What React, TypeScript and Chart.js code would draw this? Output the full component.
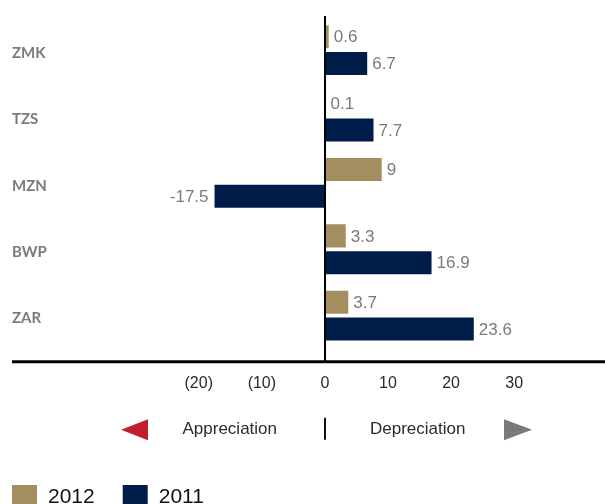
import React, { useEffect, useRef } from 'react';
import { Chart, registerables } from 'chart.js';

Chart.register(...registerables);

const categories = ['ZMK', 'TZS', 'MZN', 'BWP', 'ZAR'];
const values2012 = [0.6, 0.1, 9, 3.3, 3.7];
const values2011 = [6.7, 7.7, -17.5, 16.9, 23.6];
const seriesLabels = ['2012', '2011'];
const seriesColors = ['#a48e60', '#001c49'];
const tickValues = [-20, -10, 0, 10, 20, 30];
const directionLabels = ['Appreciation', 'Depreciation'];

const fmtTick = (v: number) => (v < 0 ? `(${-v})` : `${v}`);

const overlayPlugin = {
  id: 'overlay',
  afterDatasetsDraw(chart: any) {
    const { ctx, chartArea } = chart;
    const xs = chart.scales.x;
    const zeroX = Math.round(xs.getPixelForValue(0));
    const axisY = chartArea.bottom + 13;
    ctx.save();
    // zero line
    ctx.strokeStyle = '#000';
    ctx.lineWidth = 2;
    ctx.beginPath();
    ctx.moveTo(zeroX, chartArea.top - 1);
    ctx.lineTo(zeroX, axisY);
    ctx.stroke();
    // bottom axis line
    ctx.lineWidth = 3;
    ctx.beginPath();
    ctx.moveTo(12, axisY);
    ctx.lineTo(chart.width, axisY);
    ctx.stroke();

    // value labels
    ctx.font = '17px "Liberation Sans", Arial, sans-serif';
    ctx.fillStyle = '#7a7a7c';
    ctx.textBaseline = 'middle';
    chart.data.datasets.forEach((ds: any, di: number) => {
      const meta = chart.getDatasetMeta(di);
      meta.data.forEach((el: any, i: number) => {
        const v = ds.data[i];
        if (v >= 0) {
          ctx.textAlign = 'left';
          ctx.fillText(String(v), el.x + 5, el.y + 1);
        } else {
          ctx.textAlign = 'right';
          ctx.fillText(String(v), el.x - 6, el.y + 1);
        }
      });
    });

    // direction arrows
    const dy = axisY + 68;
    ctx.fillStyle = '#c11f2f';
    ctx.beginPath();
    ctx.moveTo(zeroX - 204, dy);
    ctx.lineTo(zeroX - 177, dy - 10.5);
    ctx.lineTo(zeroX - 177, dy + 10.5);
    ctx.closePath();
    ctx.fill();
    ctx.fillStyle = '#7a7a7e';
    ctx.beginPath();
    ctx.moveTo(zeroX + 207, dy);
    ctx.lineTo(zeroX + 179, dy - 10.5);
    ctx.lineTo(zeroX + 179, dy + 10.5);
    ctx.closePath();
    ctx.fill();
    ctx.strokeStyle = '#111';
    ctx.lineWidth = 2;
    ctx.beginPath();
    ctx.moveTo(zeroX, dy - 12);
    ctx.lineTo(zeroX, dy + 10);
    ctx.stroke();
    ctx.font = '17px "Liberation Sans", Arial, sans-serif';
    ctx.fillStyle = '#2a2a2a';
    ctx.textBaseline = 'middle';
    ctx.textAlign = 'right';
    ctx.fillText(directionLabels[0], zeroX - 48, dy);
    ctx.textAlign = 'left';
    ctx.fillText(directionLabels[1], zeroX + 45, dy);

    // legend
    ctx.font = '21px "Liberation Sans", Arial, sans-serif';
    ctx.textBaseline = 'alphabetic';
    ctx.textAlign = 'left';
    let lx = 12;
    chart.data.datasets.forEach((ds: any) => {
      ctx.fillStyle = ds.backgroundColor;
      ctx.fillRect(lx, 485, 25, 25);
      ctx.fillStyle = '#111';
      ctx.fillText(ds.label, lx + 36, 503);
      lx = lx + 36 + ctx.measureText(ds.label).width + 28;
    });
    ctx.restore();
  },
};

export default function App() {
  const ref = useRef<HTMLCanvasElement | null>(null);
  useEffect(() => {
    document.body.style.margin = '0';
    const canvas = ref.current;
    if (!canvas) return;
    const chart = new Chart(canvas, {
      type: 'bar',
      data: {
        labels: categories,
        datasets: [
          {
            label: seriesLabels[0],
            data: values2012,
            backgroundColor: seriesColors[0],
            categoryPercentage: 0.808,
            barPercentage: 0.86,
          },
          {
            label: seriesLabels[1],
            data: values2011,
            backgroundColor: seriesColors[1],
            categoryPercentage: 0.808,
            barPercentage: 0.86,
          },
        ],
      },
      options: {
        indexAxis: 'y',
        responsive: false,
        animation: false,
        layout: { padding: { top: 17, left: 12, right: 0, bottom: 94 } },
        plugins: { legend: { display: false }, tooltip: { enabled: false } },
        scales: {
          x: {
            type: 'linear',
            min: -42,
            max: 44.4,
            grid: { display: false },
            border: { display: false },
            afterBuildTicks: (axis: any) => {
              axis.ticks = tickValues.map((v) => ({ value: v }));
            },
            ticks: {
              padding: 17,
              maxRotation: 0,
              color: '#2a2a2a',
              font: { family: '"Liberation Sans", Arial, sans-serif', size: 16 },
              callback: (v: any) => fmtTick(Number(v)),
            },
          },
          y: {
            grid: { display: false },
            border: { display: false },
            afterFit: (s: any) => {
              s.width = 48;
            },
            ticks: {
              crossAlign: 'far',
              labelOffset: 3,
              color: '#7b7b7b',
              font: { family: 'Lato, sans-serif', size: 15, weight: 'bold' },
            },
          },
        },
      },
      plugins: [overlayPlugin],
    } as any);
    return () => chart.destroy();
  }, []);
  return (
    <div style={{ width: 605, height: 504 }}>
      <canvas ref={ref} width={605} height={504} style={{ display: 'block' }} />
    </div>
  );
}
